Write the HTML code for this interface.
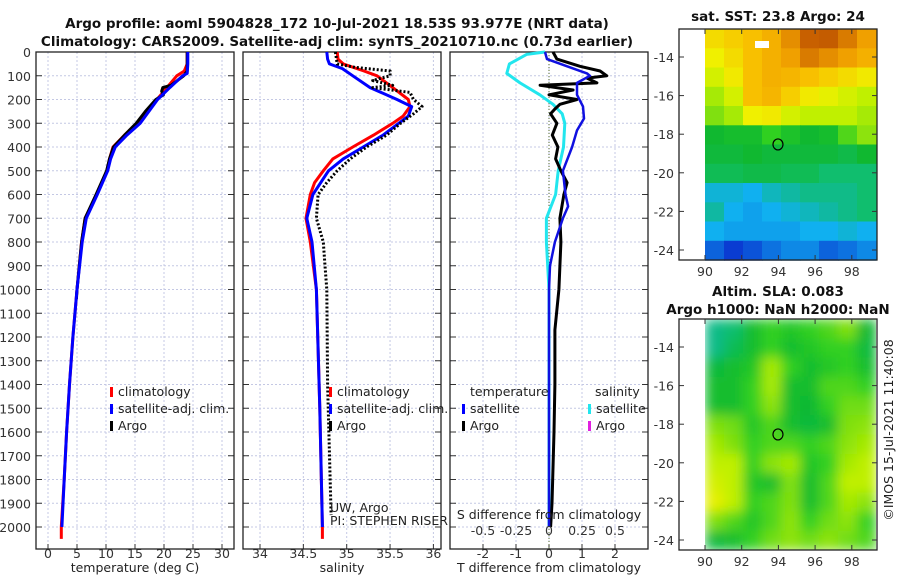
<!DOCTYPE html>
<html><head><meta charset="utf-8">
<style>
html,body{margin:0;padding:0;background:#fff;}
svg{display:block;font-family:"DejaVu Sans","Liberation Sans",sans-serif;}
.tk{font-size:12.5px;fill:#333;}
.tt{font-size:13.5px;font-weight:bold;fill:#111;}
.lg{font-size:12.5px;fill:#222;}
</style></head>
<body>
<svg id="fig" width="900" height="580" viewBox="0 0 900 580">
<text class="tt" x="337" y="28" text-anchor="middle">Argo profile: aoml 5904828_172 10-Jul-2021 18.53S 93.977E (NRT data)</text>
<text class="tt" x="337" y="46" text-anchor="middle">Climatology: CARS2009. Satellite-adj clim: synTS_20210710.nc (0.73d earlier)</text>
<text class="tt" x="778" y="21" text-anchor="middle">sat. SST: 23.8 Argo: 24</text>
<text class="tt" x="778" y="296" text-anchor="middle">Altim. SLA: 0.083</text>
<text class="tt" x="778" y="314" text-anchor="middle">Argo h1000: NaN h2000: NaN</text>
<text class="lg" transform="translate(893,430) rotate(-90)" text-anchor="middle">©IMOS 15-Jul-2021 11:40:08</text>
<g id="layer"></g>
</svg>
<script>
// ---- data ----
const depthTicks = [0,100,200,300,400,500,600,700,800,900,1000,1100,1200,1300,1400,1500,1600,1700,1800,1900,2000];
const tempTicks = [0,5,10,15,20,25,30];
const salTicks = [34,34.5,35,35.5,36];
const salTickLabels = ["34","34.5","35","35.5","36"];
const tdiffTicks = [-2,-1,0,1,2];
const sdiffTicks = [-0.5,-0.25,0,0.25,0.5];
const sdiffTickLabels = ["-0.5","-0.25","0","0.25","0.5"];

const tClimDepth = [0,50,80,100,150,200,250,300,350,400,450,500,600,700,800,1000,1200,1400,1600,1800,2000,2050];
const tClimVal   = [24,24,23.5,22.2,20.5,18.8,17,15.3,13.2,11.2,10.6,10.2,8.4,6.4,5.8,5.0,4.3,3.7,3.2,2.8,2.3,2.3];
const tSatDepth  = [0,50,90,100,150,200,250,300,350,400,450,500,600,700,800,1000,1200,1400,1600,1800,2000];
const tSatVal    = [24.1,24.1,24,23.2,21,18.9,17.4,15.9,13.6,11.6,10.8,10.3,8.5,6.6,5.9,5.0,4.3,3.7,3.2,2.8,2.4];
const tArgoDepth = [0,50,80,100,140,150,165,180,200,250,300,350,400,450,500,600,700,800,900,1000,1040];
const tArgoVal   = [24,24,24,23.4,21.2,19.8,19.6,19.9,18.6,16.8,15.2,13.2,11.3,10.6,10.1,8.3,6.4,5.8,5.4,5.0,4.9];

const sClimDepth = [0,30,50,80,100,150,200,230,270,300,350,400,450,500,550,600,700,800,1000,1500,2000,2050];
const sClimVal   = [34.89,34.9,34.96,35.2,35.35,35.53,35.71,35.73,35.65,35.53,35.31,35.07,34.84,34.73,34.63,34.58,34.53,34.58,34.65,34.69,34.72,34.72];
const sSatDepth  = [0,30,50,70,100,150,200,230,270,300,350,400,450,500,600,700,800,1000,1500,2000];
const sSatVal    = [34.77,34.78,34.8,34.95,35.07,35.27,35.58,35.75,35.71,35.6,35.42,35.19,34.96,34.79,34.61,34.54,34.6,34.65,34.69,34.72];
const sArgoDepth = [0,50,65,80,100,120,140,150,170,200,230,260,300,350,400,450,500,550,600,700,800,900,1000,1400,1950];
const sArgoVal   = [34.87,34.89,35.1,35.5,35.5,35.3,35.53,35.3,35.73,35.77,35.87,35.77,35.62,35.46,35.23,35.04,34.89,34.77,34.67,34.65,34.73,34.75,34.77,34.78,34.82];

const dSatSDepth = [0,10,50,90,130,180,220,260,300,400,500,600,700,800,1000,1500,2000];
const dSatSVal   = [-0.03,-0.17,-0.3,-0.32,-0.22,-0.07,0.03,0.1,0.12,0.11,0.07,0.05,-0.02,-0.02,0,0,0];
const dSatTDepth = [0,30,60,90,100,130,180,230,280,330,400,500,600,650,700,800,900,1000,1500,2000];
const dSatTVal   = [-0.12,-0.06,0.55,1.15,1.24,0.85,0.85,1.03,1.06,0.85,0.7,0.42,0.5,0.58,0.42,0.18,0.03,0,0,0];
const dArgoTDepth = [0,30,60,80,100,110,130,140,160,180,200,220,240,260,300,350,400,450,500,550,600,700,800,900,1000,1170,1400,1600,1900,2000];
const dArgoTVal   = [0.12,0.24,0.94,1.55,1.75,1.15,1.45,-0.27,0.73,0,0.85,0.33,0.18,0.05,0.24,0.1,0.27,0.2,0.36,0.55,0.45,0.33,0.36,0.33,0.3,0.18,0.18,0.15,0.09,0.05];

const sstGrid = [
 [0.68,0.7,0.72,0.75,0.8,0.85,0.86,0.82,0.78],
 [0.65,0.68,0.72,0.75,0.78,0.82,0.8,0.78,0.75],
 [0.62,0.66,0.72,0.75,0.74,0.72,0.7,0.68,0.66],
 [0.58,0.62,0.72,0.74,0.7,0.66,0.64,0.62,0.6],
 [0.55,0.58,0.65,0.66,0.62,0.6,0.6,0.6,0.58],
 [0.45,0.46,0.46,0.5,0.47,0.45,0.46,0.52,0.56],
 [0.44,0.44,0.45,0.44,0.44,0.44,0.44,0.43,0.45],
 [0.42,0.42,0.43,0.43,0.42,0.42,0.4,0.4,0.4],
 [0.32,0.32,0.3,0.34,0.36,0.38,0.38,0.38,0.4],
 [0.36,0.3,0.28,0.3,0.32,0.34,0.36,0.38,0.4],
 [0.3,0.28,0.28,0.28,0.28,0.3,0.3,0.32,0.3],
 [0.2,0.15,0.18,0.22,0.25,0.25,0.2,0.22,0.25]];
const slaGrid = [
 [0.38,0.4,0.46,0.5,0.48,0.5,0.52,0.55,0.45],
 [0.38,0.42,0.46,0.5,0.46,0.48,0.5,0.5,0.44],
 [0.44,0.46,0.48,0.58,0.5,0.46,0.48,0.5,0.46],
 [0.46,0.46,0.5,0.58,0.46,0.46,0.52,0.52,0.5],
 [0.46,0.46,0.5,0.56,0.46,0.45,0.5,0.54,0.54],
 [0.55,0.54,0.48,0.52,0.46,0.44,0.46,0.55,0.56],
 [0.58,0.55,0.5,0.52,0.52,0.5,0.52,0.56,0.58],
 [0.6,0.6,0.5,0.56,0.58,0.48,0.5,0.58,0.6],
 [0.62,0.6,0.48,0.46,0.55,0.46,0.52,0.6,0.6],
 [0.64,0.6,0.5,0.52,0.55,0.46,0.52,0.58,0.56],
 [0.55,0.52,0.48,0.52,0.56,0.5,0.54,0.56,0.5],
 [0.44,0.46,0.5,0.54,0.56,0.54,0.56,0.54,0.52]];
const lonTicks = [90,92,94,96,98];
const latTicks = [-14,-16,-18,-20,-22,-24];
const argoLon = 93.977, argoLat = -18.53;

// ---- helpers ----
const NS="http://www.w3.org/2000/svg";
const layer=document.getElementById('layer');
function mk(tag,attrs,parent){const e=document.createElementNS(NS,tag);for(const k in attrs)e.setAttribute(k,attrs[k]);(parent||layer).appendChild(e);return e;}
const yD = d => 52 + d*0.2375;
const PY0=52, PY1=549;
const panels=[
 {x0:36,x1:234,sx:v=>48+v*5.8,ticks:tempTicks,labels:tempTicks.map(String),name:'temperature'},
 {x0:243,x1:441,sx:v=>260+(v-34)*86.7,ticks:salTicks,labels:salTickLabels,name:'salinity'},
 {x0:450,x1:648,sx:v=>549+v*33,ticks:tdiffTicks,labels:tdiffTicks.map(String),name:'difference'}];
const sdx = v => 549+v*132;

panels.forEach((p,i)=>{
  const g=mk('g',{});
  
  
  depthTicks.forEach(d=>{mk('line',{x1:p.x0,x2:p.x1,y1:yD(d),y2:yD(d),stroke:'#c4c8e4','stroke-width':1,'stroke-dasharray':'2,2'},g);
    mk('line',{x1:p.x0,x2:p.x0+6,y1:yD(d),y2:yD(d),stroke:'#333'},g);
    mk('line',{x1:p.x1-6,x2:p.x1,y1:yD(d),y2:yD(d),stroke:'#333'},g);});
  p.ticks.forEach((t,j)=>{const x=p.sx(t);
    mk('line',{x1:x,x2:x,y1:PY0,y2:PY1,stroke:'#c4c8e4','stroke-width':1,'stroke-dasharray':'2,2'},g);
    mk('line',{x1:x,x2:x,y1:PY1-5,y2:PY1,stroke:'#333'},g);
    const t1=mk('text',{x:x,y:PY1+9,'text-anchor':'middle',class:'tk'},g);t1.textContent=p.labels[j];
    
    
  });
  const fr=mk('rect',{x:p.x0,y:PY0,width:p.x1-p.x0,height:PY1-PY0,fill:'none',stroke:'#222','stroke-width':1.3},g);
  
  
});
depthTicks.forEach(d=>{const t=mk('text',{x:31,y:yD(d)+5,'text-anchor':'end',class:'tk'});t.textContent=d;
  
  });

function line(depths,vals,sx,color,w,dash,name){
  const pts=depths.map((d,i)=>sx(vals[i]).toFixed(1)+','+yD(d).toFixed(1)).join(' ');
  const e=mk('polyline',{points:pts,fill:'none',stroke:color,'stroke-width':w,'stroke-linejoin':'round'});
  if(dash)e.setAttribute('stroke-dasharray',dash);
  
  
}
const P=panels;
line(tClimDepth,tClimVal,P[0].sx,'#f00',3,null,'temp-climatology-line');
line(tArgoDepth,tArgoVal,P[0].sx,'#000',3,null,'temp-argo-line');
line(tSatDepth,tSatVal,P[0].sx,'#00f',3,null,'temp-satellite-line');
line(sClimDepth,sClimVal,P[1].sx,'#f00',3,null,'sal-climatology-line');
line(sSatDepth,sSatVal,P[1].sx,'#00f',3,null,'sal-satellite-line');
line(sArgoDepth,sArgoVal,P[1].sx,'#000',3,'2,2','sal-argo-line');
const zl=mk('line',{x1:549,x2:549,y1:PY0,y2:PY1,stroke:'#556b2f','stroke-width':1,'stroke-dasharray':'1,2'});


line(dSatSDepth,dSatSVal,sdx,'#22e6ee',3,null,'sdiff-satellite-line');
line(dArgoTDepth,dArgoTVal,P[2].sx,'#000',3,null,'tdiff-argo-line');
line(dSatTDepth,dSatTVal,P[2].sx,'#1010e0',2.5,null,'tdiff-satellite-line');

sdiffTicks.forEach((t,j)=>{const e=mk('text',{x:sdx(t),y:535,'text-anchor':'middle',class:'tk'});e.textContent=sdiffTickLabels[j];
  
  });
function txt(x,y,s,name,anchor,cls){const e=mk('text',{x:x,y:y,'text-anchor':anchor||'start',class:cls||'lg'});e.textContent=s;
  
  return e;}
txt(549,519,'S difference from climatology','s-diff-axis-title','middle');
txt(135,572,'temperature (deg C)','temp-axis-title','middle');
txt(342,572,'salinity','salinity-axis-title','middle');
txt(549,572,'T difference from climatology','t-diff-axis-title','middle');
const uw=txt(330,512,'UW, Argo','pi-line-1','start');uw.setAttribute('font-size','10.5');
const pi=txt(330,525,'PI: STEPHEN RISER','pi-line-2','start');pi.setAttribute('font-size','10.5');

function legItem(x,y,color,label,name){
  const r=mk('rect',{x:x,y:y-9,width:3,height:10,fill:color});
  
  
  txt(x+8,y,label,name+'-label');
}
[[110,'temp'],[329,'sal']].forEach(([x,n])=>{
  legItem(x,396,'#f00','climatology',n+'-legend-climatology');
  legItem(x,413,'#00f','satellite-adj. clim.',n+'-legend-satellite');
  legItem(x,430,'#000','Argo',n+'-legend-argo');
});
txt(470,396,'temperature','diff-legend-temperature-header');
legItem(462,413,'#00f','satellite','diff-legend-t-satellite');
legItem(462,430,'#000','Argo','diff-legend-t-argo');
txt(595,396,'salinity','diff-legend-salinity-header');
legItem(588,413,'#22e6ee','satellite','diff-legend-s-satellite');
legItem(588,430,'#e020e0','Argo','diff-legend-s-argo');

// ---- maps ----
const stops=[[0,[0,20,140]],[0.15,[10,60,210]],[0.3,[16,176,240]],[0.4,[16,190,110]],[0.45,[16,184,48]],[0.5,[48,208,32]],[0.55,[128,224,16]],[0.6,[192,240,0]],[0.65,[240,240,0]],[0.72,[248,192,0]],[0.78,[240,160,0]],[0.85,[200,96,0]],[1,[140,40,0]]];
function cmap(v){for(let i=1;i<stops.length;i++){if(v<=stops[i][0]){const a=stops[i-1],b=stops[i],f=(v-a[0])/(b[0]-a[0]);const c=a[1].map((q,k)=>Math.round(q+(b[1][k]-q)*f));return 'rgb('+c.join(',')+')';}}return 'rgb(140,40,0)';}
const defs=mk('defs',{});
const flt=mk('filter',{id:'bl',x:'0',y:'0',width:'1',height:'1'},defs);
mk('feGaussianBlur',{stdDeviation:'6',edgeMode:'duplicate'},flt);
const cp=mk('clipPath',{id:'c2'},defs);mk('rect',{x:705,y:319,width:171,height:231},cp);
function drawMap(grid,top,name,blur){
  const bottom=top+231, lx=lon=>705+(lon-90)*18.35, ly=lat=>top+28+(-14-lat)*19.3;
  const g=mk('g',{});
  
  
  const hg=mk('g',blur?{'clip-path':'url(#c2)'}:{},g);
  const hi=blur?mk('g',{filter:'url(#bl)'},hg):hg;
  const rows=grid.length, cols=grid[0].length, cw=171/cols, ch=231/rows;
  grid.forEach((row,r)=>row.forEach((v,c)=>{
    const cell=mk('rect',{x:(705+c*cw).toFixed(1),y:(top+r*ch).toFixed(1),width:(cw+0.6).toFixed(1),height:(ch+0.6).toFixed(1),fill:cmap(v)},hi);
    
    
  }));
  mk('rect',{x:679,y:top,width:198,height:231,fill:'none',stroke:'#222','stroke-width':1.3},g);
  lonTicks.forEach(l=>{const x=lx(l);mk('line',{x1:x,x2:x,y1:bottom-5,y2:bottom,stroke:'#333'},g);mk('line',{x1:x,x2:x,y1:top,y2:top+5,stroke:'#333'},g);
    const t=mk('text',{x:x,y:bottom+16,'text-anchor':'middle',class:'tk'},g);t.textContent=l;
    
    });
  latTicks.forEach(l=>{const y=ly(l);mk('line',{x1:679,x2:684,y1:y,y2:y,stroke:'#333'},g);mk('line',{x1:872,x2:877,y1:y,y2:y,stroke:'#333'},g);
    const t=mk('text',{x:674,y:y+5,'text-anchor':'end',class:'tk'},g);t.textContent=l;
    
    });
  const c=mk('ellipse',{cx:lx(argoLon),cy:ly(argoLat),rx:5,ry:5.5,fill:'none',stroke:'#000','stroke-width':1.2},g);
  
  
}
drawMap(sstGrid,29,'sst-map',false);
const wp=mk('rect',{x:755,y:41,width:14,height:7,fill:'#fff'});


drawMap(slaGrid,319,'sla-map',true);
</script>
</body></html>
